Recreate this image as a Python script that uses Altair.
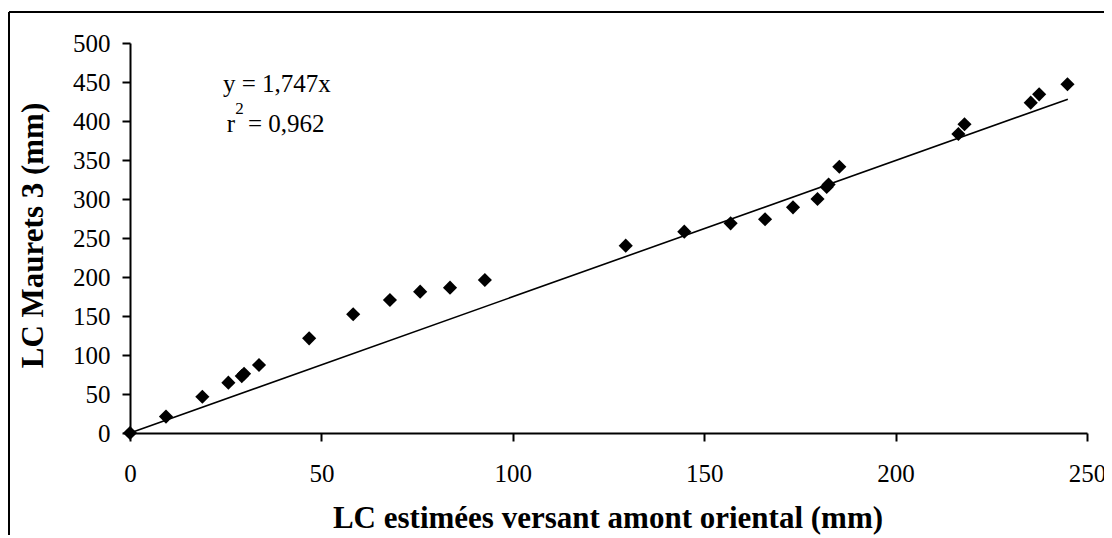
import altair as alt
import pandas as pd

# measured points (LC estimées versant amont oriental, LC Maurets 3)
x_vals = [0, 9.4, 18.9, 25.7, 29.2, 29.8, 33.7, 46.8, 58.3, 67.9, 75.8, 83.6, 92.7,
          129.5, 144.8, 156.9, 165.9, 173.2, 179.6, 182.0, 182.5, 185.3,
          216.4, 218.0, 235.3, 237.5, 244.9]
y_vals = [0, 21.0, 46.5, 64.5, 73.0, 76.0, 87.2, 121.4, 152.2, 170.5, 181.2, 186.3, 196.2,
          240.2, 258.1, 268.8, 274.0, 289.3, 300.0, 315.5, 318.5, 341.4,
          383.3, 395.8, 423.5, 434.2, 447.1]

# trend line y = 1,747x end points
line_x = [0, 245]
line_y = [0, 428.0]

# equation labels
label_text = ["y = 1,747x", "r", "= 0,962"]
label_x = [24.3, 25.3, 30.8]
label_y = [437.2, 386.3, 386.3]
sup_text = ["2"]
sup_x = [27.5]
sup_y = [409.0]

x_ticks = [0, 50, 100, 150, 200, 250]
y_ticks = [0, 50, 100, 150, 200, 250, 300, 350, 400, 450, 500]

FONT = "Liberation Serif"

pts = pd.DataFrame({"x": x_vals, "y": y_vals})
ln = pd.DataFrame({"x": line_x, "y": line_y})
lab = pd.DataFrame({"t": label_text, "x": label_x, "y": label_y})
sup = pd.DataFrame({"t": sup_text, "x": sup_x, "y": sup_y})

xs = alt.Scale(domain=[0, 250], nice=False, zero=False)
ys = alt.Scale(domain=[0, 500], nice=False, zero=False)

xaxis = alt.Axis(values=x_ticks, title="LC estimées versant amont oriental (mm)",
                 grid=False, domainColor="black", domainWidth=2, tickColor="black",
                 tickWidth=2, tickSize=8, labelPadding=20, labelFont=FONT, labelFontSize=25,
                 labelColor="black", labelFlush=False, labelOverlap=False,
                 titleFont=FONT, titleFontSize=31,
                 titleFontWeight="bold", titleColor="black", titleBaseline="alphabetic",
                 titleY=94, titleX=477.5, titleAlign="center")
yaxis = alt.Axis(values=y_ticks, title="LC Maurets 3 (mm)",
                 grid=False, domainColor="black", domainWidth=2, tickColor="black",
                 tickWidth=2, tickSize=8, labelPadding=12, labelFont=FONT, labelFontSize=25,
                 labelColor="black", labelFlush=False, labelOverlap=False,
                 titleFont=FONT, titleFontSize=31,
                 titleFontWeight="bold", titleColor="black", titleAngle=270,
                 titleBaseline="alphabetic", titleAlign="center", titleX=-88, titleY=192)

X = alt.X("x:Q", scale=xs, axis=xaxis)
Y = alt.Y("y:Q", scale=ys, axis=yaxis)

points = alt.Chart(pts).mark_point(shape="diamond", filled=True, color="black",
                                   size=200, opacity=1).encode(x=X, y=Y)

trend = alt.Chart(ln).mark_line(color="black", strokeWidth=1.6).encode(x=X, y=Y)

labels = alt.Chart(lab).mark_text(font=FONT, fontSize=25, color="black",
                                  align="left", baseline="alphabetic").encode(
    x=X, y=Y, text="t:N")

sup_label = alt.Chart(sup).mark_text(font=FONT, fontSize=17, color="black",
                                     align="left", baseline="alphabetic").encode(
    x=X, y=Y, text="t:N")

frame_src = pd.DataFrame({"k": [0]})
frame_top = alt.Chart(frame_src).mark_rule(color="black", strokeWidth=2).encode(
    x=alt.value(-121), x2=alt.value(974), y=alt.value(-31))
frame_left = alt.Chart(frame_src).mark_rule(color="black", strokeWidth=2).encode(
    x=alt.value(-121), y=alt.value(-31), y2=alt.value(500))

chart = alt.layer(points, trend, labels, sup_label, frame_top, frame_left).properties(
    width=957, height=390,
    background="white",
    autosize=alt.AutoSizeParams(type="none"),
    padding={"left": 122, "top": 35, "right": 17, "bottom": 102},
).configure_view(strokeWidth=0, stroke="transparent")

chart.save("out.html", embed_options={"renderer": "svg", "actions": False})
